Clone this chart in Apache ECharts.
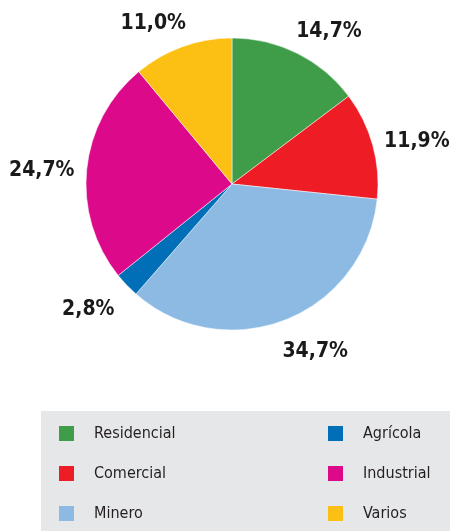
<!DOCTYPE html>
<html><head><meta charset="utf-8">
<script src="https://cdn.jsdelivr.net/npm/echarts@6/dist/echarts.min.js"></script>
<style>html,body{margin:0;padding:0;background:#fff}#c{width:450px;height:531px}</style>
</head><body><div id="c"></div>
<script>
const categories = ['Residencial','Comercial','Minero','Agrícola','Industrial','Varios'];
const values = [14.7, 11.9, 34.7, 2.8, 24.7, 11.0];
const valueLabels = ['14,7%','11,9%','34,7%','2,8%','24,7%','11,0%'];
const legendLeft = ['Residencial','Comercial','Minero'];
const legendRight = ['Agrícola','Industrial','Varios'];

const colors = ['#3f9c48','#ee1d25','#8cbae3','#006fb7','#dc0a8b','#fcbf14'];
const FONT = "'DejaVu Sans Condensed','DejaVu Sans',sans-serif";
const CX = 232, CY = 184, R = 146;
const total = values.reduce((a,b)=>a+b,0);
function midAngle(i){ let cum=0; for(let k=0;k<i;k++) cum+=values[k]; return (cum+values[i]/2)/total*2*Math.PI; }

const legendBase = {
  orient:'vertical', padding:0, itemWidth:15, itemHeight:15, itemGap:20, icon:'rect',
  selectedMode:false, itemStyle:{borderWidth:0},
  textStyle:{fontFamily:FONT, fontSize:16, color:'#231f20', lineHeight:20, padding:[0,0,0,15]}
};

const chart = echarts.init(document.getElementById('c'), null, {renderer:'canvas'});
chart.setOption({
  animation:false,
  color: colors,
  graphic:[{type:'rect', shape:{x:41,y:411,width:409,height:120}, style:{fill:'#e6e7e8'}, z:-1, silent:true}],
  legend:[
    Object.assign({}, legendBase, {data:legendLeft, left:59, top:423.5}),
    Object.assign({}, legendBase, {data:legendRight, left:328, top:423.5})
  ],
  series:[{
    type:'pie', center:[CX,CY], radius:R, startAngle:90, clockwise:true,
    avoidLabelOverlap:false,
    data: categories.map((n,i)=>({name:n, value:values[i]})),
    label:{show:true, position:'outside', overflow:'none', formatter:p=>valueLabels[p.dataIndex],
      fontFamily:FONT, fontWeight:'bold', fontSize:21, color:'#1a1a1a'},
    labelLine:{show:false},
    labelLayout: p => {
      const a = midAngle(p.dataIndex);
      const ux = Math.sin(a), uy = -Math.cos(a);
      return {x: CX + 1.165*R*ux + 21*Math.sign(ux), y: CY + 1.2*R*uy + 4, align:'center', verticalAlign:'middle'};
    },
    itemStyle:{borderColor:'#ffffff', borderWidth:0.5},
    emphasis:{disabled:true}
  }]
});
</script>
</body></html>
